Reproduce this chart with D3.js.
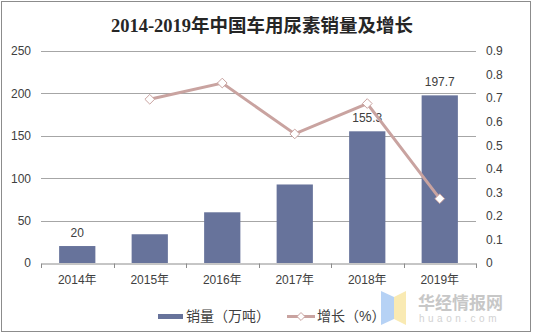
<!DOCTYPE html>
<html><head><meta charset="utf-8">
<script src="https://cdn.jsdelivr.net/npm/d3@7"></script>
<style>body{margin:0;background:#fff}svg{display:block}</style>
</head><body>
<script>
const categories = ["2014年","2015年","2016年","2017年","2018年","2019年"];
const sales = [20, 33.9, 59.8, 92.6, 155.3, 197.7];
const growth = [null, 0.695, 0.764, 0.548, 0.677, 0.273];
const salesLabels = ["20", null, null, null, "155.3", "197.7"];
const leftTicks = [0,50,100,150,200,250];
const rightTicks = [0,0.1,0.2,0.3,0.4,0.5,0.6,0.7,0.8,0.9];
const seriesNames = ["销量（万吨）","增长（%）"];
const title = "2014-2019年中国车用尿素销量及增长";

const W=533,H=335;
const barColor="#67739b", lineColor="#c9a3a0", gridColor="#a6a6a6", textColor="#404040";
const font="'Liberation Sans','Noto Sans CJK SC',sans-serif";
const svg=d3.select("body").append("svg").attr("width",W).attr("height",H);
svg.append("rect").attr("x",1.5).attr("y",1.5).attr("width",529).attr("height",330)
  .attr("fill","#fff").attr("stroke","#8c8c8c");

const x=d3.scaleBand().domain(categories).range([41,476]).paddingInner(0.5).paddingOuter(0.25);
const y=d3.scaleLinear().domain([0,250]).range([263,51]);
const y2=d3.scaleLinear().domain([0,0.9]).range([263,51]);

svg.append("text").attr("x",262).attr("y",32).attr("text-anchor","middle")
  .attr("font-family","'Liberation Serif','Noto Sans CJK SC',serif").attr("font-weight","bold")
  .attr("font-size",18.5).attr("fill","#262626").text(title);

// grid
svg.append("g").selectAll("line").data(leftTicks.filter(d=>d>0)).join("line")
  .attr("x1",41).attr("x2",476).attr("y1",d=>Math.round(y(d))+0.5).attr("y2",d=>Math.round(y(d))+0.5)
  .attr("stroke",gridColor).attr("stroke-width",1);

// left axis
const la=svg.append("g").attr("transform","translate(41,0)")
  .call(d3.axisLeft(y).tickValues(leftTicks).tickSize(0).tickPadding(10));
la.select(".domain").remove();
la.selectAll("text").attr("font-family",font).attr("font-size",12).attr("fill",textColor);
// right axis
const ra=svg.append("g").attr("transform","translate(476,0)")
  .call(d3.axisRight(y2).tickValues(rightTicks).tickSize(0).tickPadding(10).tickFormat(d=>d===0?"0":d3.format(".1f")(d)));
ra.select(".domain").remove();
ra.selectAll("text").attr("font-family",font).attr("font-size",12).attr("fill",textColor);

// bars
svg.append("g").selectAll("rect").data(sales).join("rect")
  .attr("x",(d,i)=>x(categories[i])).attr("width",x.bandwidth())
  .attr("y",d=>y(d)).attr("height",d=>y(0)-y(d)).attr("fill",barColor);

// x axis
const xa=svg.append("g").attr("transform","translate(0,263.5)")
  .call(d3.axisBottom(x).tickSize(0).tickPadding(12));
xa.select(".domain").attr("stroke","#8c8c8c");
xa.selectAll("text").attr("font-family",font).attr("font-size",12).attr("fill",textColor);
const step=x.step();
const bounds=d3.range(categories.length+1).map(i=>41+i*step);
svg.append("g").selectAll("line").data(bounds).join("line")
  .attr("x1",d=>Math.round(d)+0.5).attr("x2",d=>Math.round(d)+0.5).attr("y1",263.5).attr("y2",268)
  .attr("stroke","#8c8c8c");

// bar labels
svg.append("g").selectAll("text").data(sales.map((v,i)=>({v,i,l:salesLabels[i]})).filter(d=>d.l))
  .join("text").attr("x",d=>x(categories[d.i])+x.bandwidth()/2).attr("y",d=>y(d.v)-9)
  .attr("text-anchor","middle").attr("font-family",font).attr("font-size",12).attr("fill",textColor)
  .text(d=>d.l);

// line
const pts=growth.map((g,i)=>({g,i})).filter(d=>d.g!=null);
const line=d3.line().x(d=>x(categories[d.i])+x.bandwidth()/2).y(d=>y2(d.g));
svg.append("path").datum(pts).attr("d",line).attr("fill","none").attr("stroke",lineColor).attr("stroke-width",3);
const diamond=d3.symbol().type(d3.symbolDiamond2).size(60);
svg.append("g").selectAll("path").data(pts).join("path")
  .attr("transform",d=>`translate(${x(categories[d.i])+x.bandwidth()/2},${y2(d.g)})`)
  .attr("d",diamond).attr("fill","#fff").attr("stroke",lineColor).attr("stroke-width",1);

// legend
const lg=svg.append("g");
lg.append("rect").attr("x",158).attr("y",314).attr("width",25).attr("height",5).attr("fill",barColor);
lg.append("text").attr("x",186).attr("y",321).attr("font-family",font).attr("font-size",14).attr("fill",textColor).text(seriesNames[0]);
lg.append("line").attr("x1",287).attr("x2",315).attr("y1",316.5).attr("y2",316.5).attr("stroke",lineColor).attr("stroke-width",3);
lg.append("path").attr("transform","translate(301,316.5)").attr("d",d3.symbol().type(d3.symbolDiamond2).size(40))
  .attr("fill","#fff").attr("stroke",lineColor);
lg.append("text").attr("x",317).attr("y",321).attr("font-family",font).attr("font-size",14).attr("fill",textColor).text(seriesNames[1]);

// watermark
const wm=svg.append("g").attr("opacity",0.75);
wm.append("path").attr("d","M381,291 L394,297 L394,319 L381,325 Z").attr("fill","#9ec3f2");
wm.append("path").attr("d","M394,297 L406,291 L406,325 L394,319 Z").attr("fill","#f7e49a");
wm.append("text").attr("x",418).attr("y",309).attr("font-family","'Noto Sans CJK SC',sans-serif").attr("font-weight","bold")
  .attr("font-size",17).attr("fill","#b5b5b5").text("华经情报网");
wm.append("text").attr("x",419).attr("y",322).attr("font-family",font).attr("font-size",10).attr("letter-spacing",3.5)
  .attr("fill","#c4c4c4").text("huaon.com");
</script>
</body></html>
